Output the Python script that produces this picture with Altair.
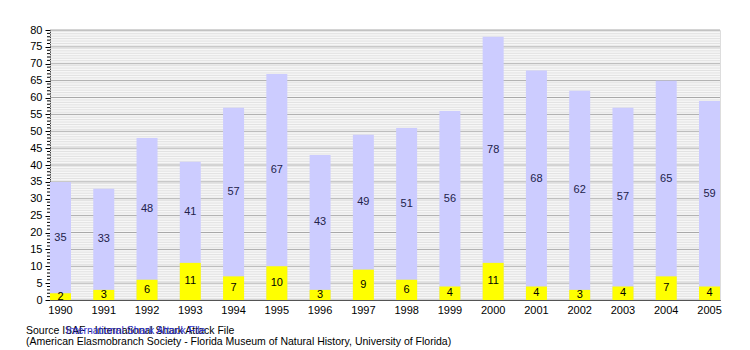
import altair as alt
import pandas as pd

years = [str(y) for y in range(1990, 2006)]
total_attacks = [35, 33, 48, 41, 57, 67, 43, 49, 51, 56, 78, 68, 62, 57, 65, 59]
fatal_attacks = [2, 3, 6, 11, 7, 10, 3, 9, 6, 4, 11, 4, 3, 4, 7, 4]
footer_lines = [
    "Source ISAF - International Shark Attack File",
    "(American Elasmobranch Society - Florida Museum of Natural History, University of Florida)",
]
footer_link = "International Shark Attack File"

major_ticks = list(range(0, 81, 5))
minor_grid = [i / 2 for i in range(0, 161) if (i / 2) % 5 != 0]
minor_ticks = [i for i in range(0, 81) if i % 5 != 0]

df = pd.DataFrame({"year": years, "total": total_attacks, "fatal": fatal_attacks})
df["mid_total"] = (df["total"] + df["fatal"]) / 2
df["mid_fatal"] = df["fatal"] / 2

FONT = "Liberation Sans"

xaxis = alt.Axis(labelAngle=0, ticks=False, domainColor="#000000",
                 labelColor="#000000", labelFont=FONT, labelFontSize=11,
                 labelPadding=4, labelOverlap=False)
xscale = alt.Scale(paddingInner=0.515, paddingOuter=0)
x = alt.X("year:N", title=None, sort=years, scale=xscale, axis=xaxis)
yscale = alt.Scale(domain=[0, 80], nice=False)
yaxis = alt.Axis(values=major_ticks, grid=False, tickSize=5, labelOverlap=False,
                 tickColor="#000000", domainColor="#000000", format="d",
                 labelFont=FONT, labelFontSize=11, labelColor="#000000", labelPadding=3)


def Y(field):
    return alt.Y(field, scale=yscale, title=None, axis=yaxis)


minor_grid_layer = alt.Chart(pd.DataFrame({"v": minor_grid})).mark_rule(
    color="#e2e2e2", strokeWidth=1).encode(y=Y("v:Q"))
major_grid_layer = alt.Chart(pd.DataFrame({"v": major_ticks})).mark_rule(
    color="#a8a8a8", strokeWidth=1).encode(y=Y("v:Q"))
minor_tick_layer = alt.Chart(pd.DataFrame({"v": minor_ticks})).mark_rule(
    color="#000000", strokeWidth=1).encode(y=Y("v:Q"), x=alt.value(-3), x2=alt.value(0))

base = alt.Chart(df)

total_bars = base.mark_bar(color="#ccccff").encode(x=x, y=Y("total:Q"))
fatal_bars = base.mark_bar(color="#ffff00").encode(x=x, y=Y("fatal:Q"))
total_text = base.mark_text(font=FONT, fontSize=11, color="#22224a", baseline="middle").encode(
    x=x, y=Y("mid_total:Q"), text="total:Q")
fatal_text = base.mark_text(font=FONT, fontSize=11, color="#000000", baseline="middle").encode(
    x=x, y=Y("mid_fatal:Q"), text="fatal:Q")

f1 = alt.Chart(pd.DataFrame({"t": [footer_lines[0]]})).mark_text(
    font=FONT, fontSize=10.5, align="left", baseline="middle", color="#000000").encode(
    x=alt.value(-24), y=alt.value(301), text="t:N")
f1b = alt.Chart(pd.DataFrame({"t": [footer_link]})).mark_text(
    font=FONT, fontSize=10.5, align="left", baseline="middle", color="#3333cc").encode(
    x=alt.value(16), y=alt.value(301), text="t:N")
f2 = alt.Chart(pd.DataFrame({"t": [footer_lines[1]]})).mark_text(
    font=FONT, fontSize=10.5, align="left", baseline="middle", color="#000000").encode(
    x=alt.value(-24), y=alt.value(312), text="t:N")

chart = alt.layer(minor_grid_layer, major_grid_layer, total_bars, fatal_bars,
                  total_text, fatal_text, minor_tick_layer, f1, f1b, f2).properties(
    width=670, height=270,
    padding={"left": 50, "top": 30, "right": 30, "bottom": 50},
    autosize="none",
).configure_view(stroke=None).configure(background="#ffffff")

chart.save("out.html", embed_options={"renderer": "svg", "actions": False})
